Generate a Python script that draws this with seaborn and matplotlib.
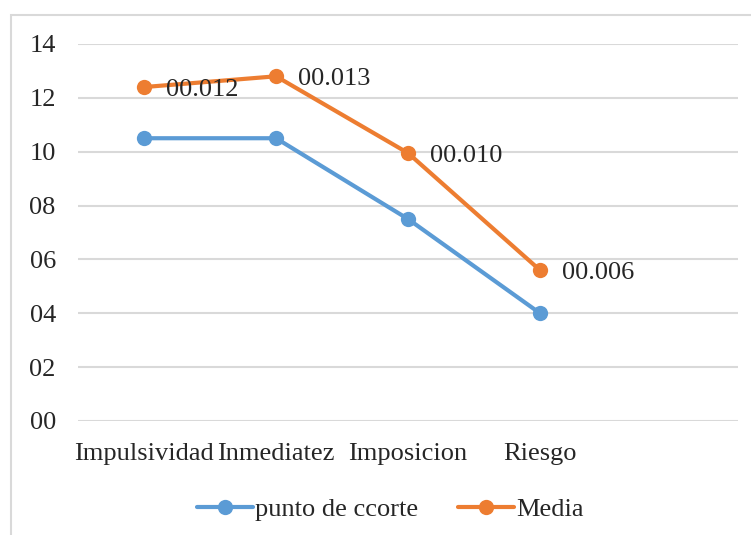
import pandas as pd
import matplotlib.pyplot as plt
import seaborn as sns
from matplotlib.patches import Rectangle
from matplotlib.ticker import FuncFormatter

# Data
categorias = ["Impulsividad", "Inmediatez", "Imposicion", "Riesgo"]
punto_corte = [10.5, 10.5, 7.5, 4.0]
media = [12.4, 12.8, 9.95, 5.6]
etiquetas_media = ["00.012", "00.013", "00.010", "00.006"]
series = ["punto de ccorte", "Media"]
colores = ["#5B9BD5", "#ED7D31"]

df = pd.DataFrame({
    "categoria": categorias * 2,
    "x": list(range(len(categorias))) * 2,
    "valor": punto_corte + media,
    "serie": [series[0]] * len(categorias) + [series[1]] * len(categorias),
})

sns.set_style("white")
plt.rcParams['font.family'] = ['Liberation Serif', 'DejaVu Serif']
plt.rcParams['font.size'] = 19

fig = plt.figure(figsize=(7.51, 5.35), dpi=100)
ax = fig.add_axes([0.1039, 0.2131, 0.8788, 0.7047])

# outer chart frame (cut off at right and bottom)
fig.patches.append(Rectangle((11 / 751, -0.05), 1.0, 1 - 15 / 535 + 0.05,
                             transform=fig.transFigure, fill=False,
                             edgecolor="#d9d9d9", linewidth=1.5))

sns.lineplot(data=df, x="x", y="valor", hue="serie", hue_order=series,
             palette=colores, marker="o", markersize=11, markeredgewidth=0,
             linewidth=3, ax=ax, legend=False)

for i, (v, t) in enumerate(zip(media, etiquetas_media)):
    ax.annotate(t, (i, v), xytext=(16, -2), textcoords="offset points",
                ha="left", va="center", fontsize=19)

ax.set_xlim(-0.5, 4.5)
ax.set_ylim(0, 14)
ax.set_xticks(range(len(categorias)))
ax.set_xticklabels(categorias)
ax.set_yticks(range(0, 15, 2))
ax.yaxis.set_major_formatter(FuncFormatter(lambda v, p: f"{v:02.0f}"))
ax.tick_params(axis="y", length=0, pad=16)
ax.tick_params(axis="x", length=0, pad=16)
ax.grid(axis="y", color="#d9d9d9", linewidth=1.5)
ax.set_axisbelow(True)
ax.set_xlabel("")
ax.set_ylabel("")
for s in ax.spines.values():
    s.set_visible(False)

handles = [plt.Line2D([], [], color=c, marker="o", markersize=11,
                      markeredgewidth=0, linewidth=3) for c in colores]
fig.legend(handles, series, loc="center", bbox_to_anchor=(0.52, 0.048),
           ncol=2, frameon=False, handlelength=2.1, handletextpad=0.1,
           columnspacing=1.5, fontsize=19)

plt.savefig("out.png", dpi=100)
